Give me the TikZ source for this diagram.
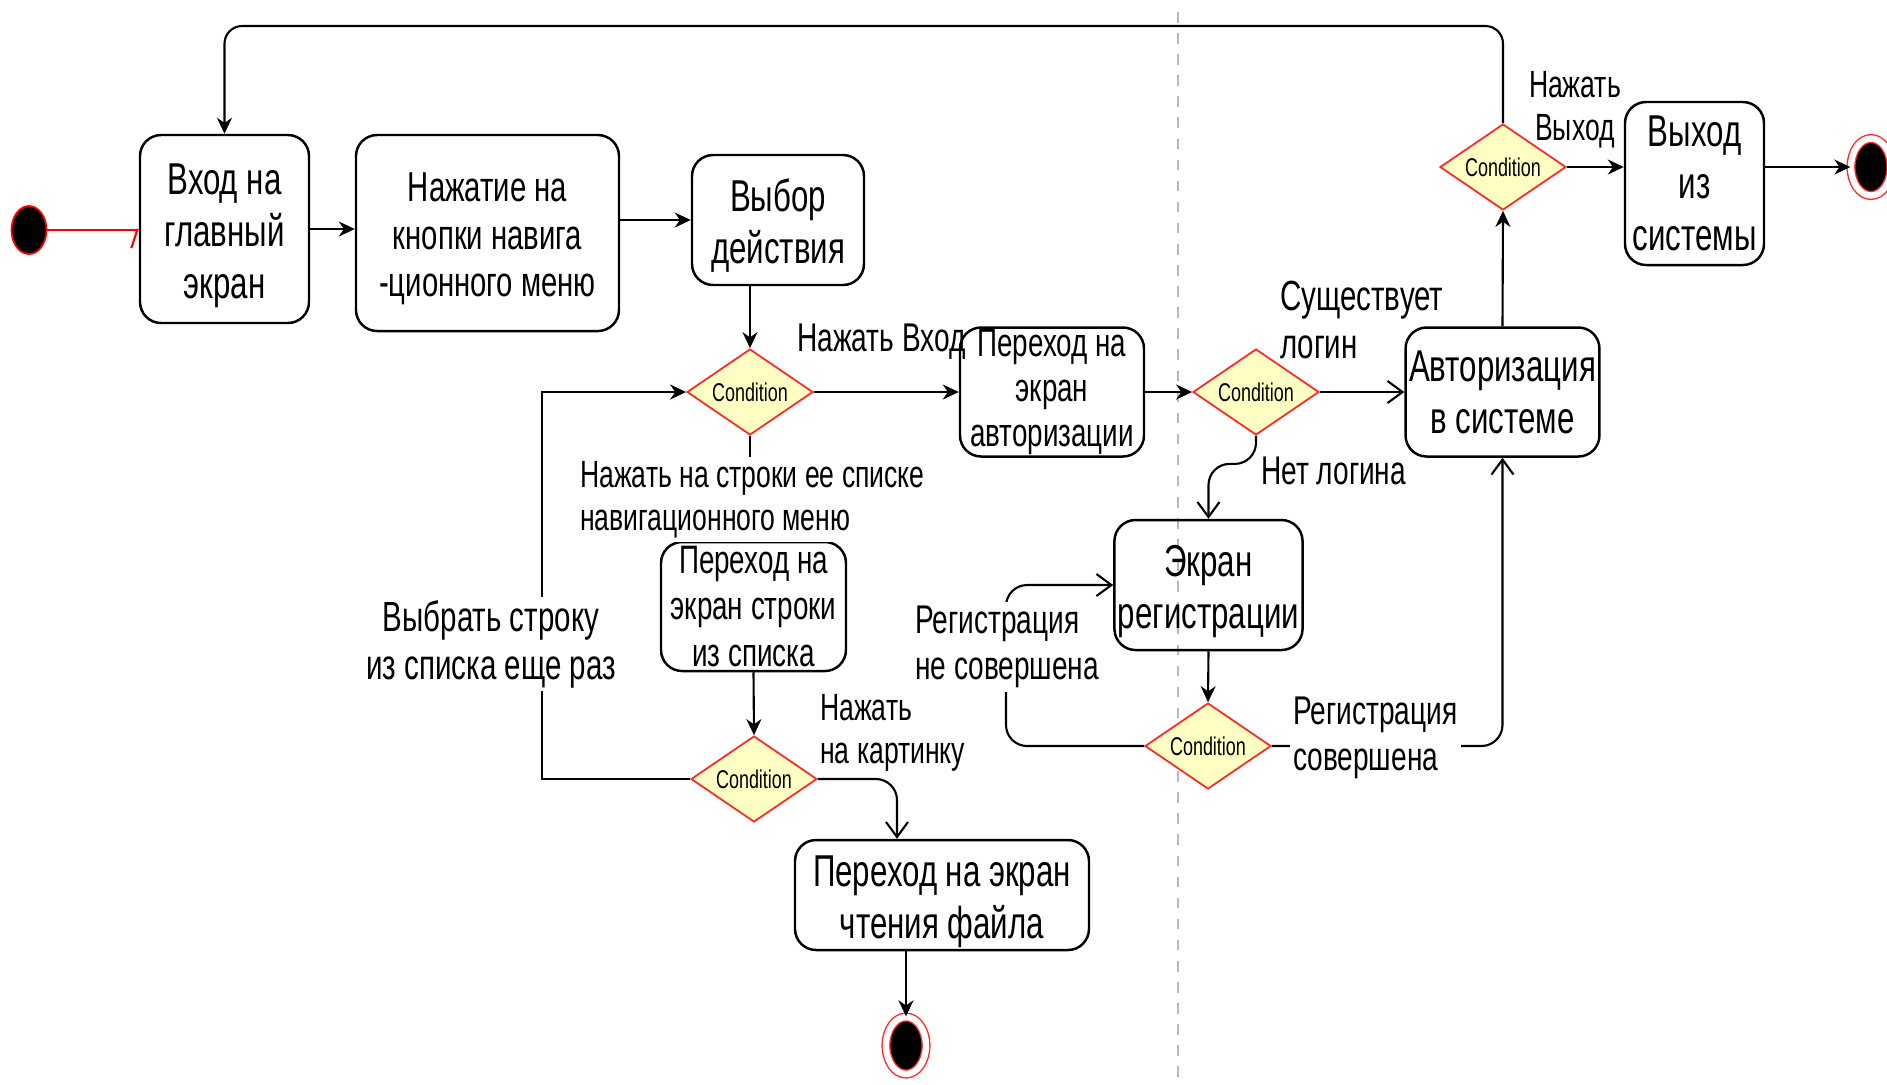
\documentclass[tikz,border=0pt]{standalone}
\usepackage{fontspec}
\setmainfont{Liberation Sans}[FakeStretch=0.7]
\usetikzlibrary{arrows.meta,shapes.geometric}
\definecolor{condfill}{RGB}{255,255,196}
\definecolor{condline}{RGB}{255,40,40}
\newcommand{\topgap}{\rule{0pt}{0.97em}}

\begin{document}
\begin{tikzpicture}

\tikzset{state/.style = {draw, line width=0.7pt, rounded corners=6pt, align=center, inner xsep=1pt, inner ysep=0pt, font=\fontsize{12.7}{14.8}\selectfont}}
\tikzset{smallstate/.style = {state, font=\fontsize{11.3}{13.1}\selectfont}}
\tikzset{cond/.style = {diamond, draw=condline, fill=condfill, line width=0.5pt, aspect=1.46, inner sep=0pt, minimum width=1.26cm, minimum height=0.86cm, font=\fontsize{7.3}{8}\selectfont}}
\tikzset{initial/.style = {ellipse, draw=red, fill=black, line width=0.5pt, minimum width=0.35cm, minimum height=0.48cm, inner sep=0pt}}
\tikzset{final/.style = {ellipse, draw=condline, fill=black, double=white, double distance=1.8pt, line width=0.4pt, minimum width=0.40cm, minimum height=0.57cm, inner sep=0pt}}
\tikzset{lbl/.style = {inner sep=1pt, font=\fontsize{11.4}{13.2}\selectfont}}
\tikzset{biglbl/.style = {lbl, font=\fontsize{12}{13.6}\selectfont}}
\tikzset{smalllbl/.style = {lbl, font=\fontsize{10.8}{12.3}\selectfont}}
\tikzset{line/.style = {line width=0.6pt}}
\tikzset{arc/.style = {line, -{Stealth[length=1.6mm,width=1.5mm]}}}
\tikzset{openarc/.style = {line, -{Straight Barb[length=1.5mm,width=2.2mm]}}}

\useasboundingbox (0,0) rectangle (18.87,-10.84);

% lane border
\draw[gray!55, dashed, line width=0.4pt] (11.78,-0.12) -- (11.78,-10.84);

% start and end points
\node[initial] (start) at (0.29,-2.30) {};
\node[final] (end1) at (9.06,-10.455) {};
\node[final] (end2) at (18.71,-1.67) {};

% states
\node[state, minimum width=1.69cm, minimum height=1.88cm] (entry) at (2.245,-2.29) {\topgap Вход на\\главный\\экран};
\node[smallstate, minimum width=2.63cm, minimum height=1.96cm, font=\fontsize{11.9}{13.6}\selectfont] (navmenu) at (4.875,-2.33) {\topgap Нажатие на\\кнопки навига\\-ционного меню};
\node[state, minimum width=1.72cm, minimum height=1.30cm] (choice) at (7.78,-2.20) {\topgap Выбор\\действия};
\node[smallstate, minimum width=1.84cm, minimum height=1.29cm, font=\fontsize{11.3}{12.7}\selectfont] (toauth) at (10.52,-3.92) {Переход на\\экран\\авторизации};
\node[state, minimum width=1.87cm, minimum height=1.29cm] (auth) at (15.025,-3.92) {Авторизация\\в системе};
\node[state, minimum width=1.39cm, minimum height=1.63cm] (logout) at (16.945,-1.835) {Выход\\из\\системы};
\node[state, minimum width=1.85cm, minimum height=1.30cm] (regscreen) at (12.085,-5.85) {\topgap Экран\\регистрации};
\node[smallstate, minimum width=1.85cm, minimum height=1.29cm] (rowscreen) at (7.535,-6.065) {Переход на\\экран строки\\из списка};
\node[state, minimum width=2.94cm, minimum height=1.10cm] (filescreen) at (9.42,-8.95) {\topgap Переход на экран\\чтения файла};

% conditions
\node[cond] (c1) at (7.50,-3.92) {Condition};
\node[cond] (c2) at (12.56,-3.92) {Condition};
\node[cond] (c3) at (15.03,-1.67) {Condition};
\node[cond] (c4) at (12.08,-7.46) {Condition};
\node[cond] (c5) at (7.54,-7.79) {Condition};

% helper points
\coordinate (top) at (0,-0.26);
\coordinate (again) at (5.42,0);
\coordinate (pic) at (8.97,0);
\coordinate (notreg) at (10.06,0);

% arcs
\draw[red, line width=0.6pt, -{Straight Barb[right,length=0.6mm,width=3.6mm]}] (start.east) -- (start.east -| entry.west);
\draw[arc] (entry.east) -- (entry.east -| navmenu.west);
\draw[arc] (navmenu.east |- choice.west) -- (choice.west);
\draw[arc] (choice.south -| c1) -- (c1.north);
\draw[arc] (c1.east) -- (toauth.west);
\draw[arc] (toauth.east) -- (c2.west);
\draw[openarc] (c2.east) -- (auth.west);
\draw[arc] (auth.north) -- (c3.south);
\draw[arc] (c3.east) -- (c3.east -| logout.west);
\draw[arc] (c3.east -| logout.east) -- (end2.west);
\draw[arc, rounded corners=5pt] (c3.north) -- (c3.north |- top) -- (entry.north |- top) -- (entry.north);
\draw[arc] (rowscreen.south) -- (c5.north);
\draw[arc] (c5.west) -- (c5.west -| again) -- (c1.west -| again) -- (c1.west);
\draw[openarc, rounded corners=6pt] (c5.east) -- (c5.east -| pic) -- (filescreen.north -| pic);
\draw[arc] (filescreen.south -| end1) -- (end1.north);
\draw[openarc, rounded corners=6pt] (c2.south) -- ++(0,-0.28) -| (regscreen.north);
\draw[arc] (regscreen.south) -- (c4.north);
\draw[openarc, rounded corners=6pt] (c4.west) -- (c4.west -| notreg) -- (regscreen.west -| notreg) -- (regscreen.west);
\draw[openarc, rounded corners=6pt] (c4.east) -| (auth.south);

% labels
\node[lbl, anchor=west] (l1) at (7.93,-3.42) {Нажать Вход};
\node[smalllbl, fill=white, anchor=west, align=left] (l2) at (5.76,-5.00) {Нажать на строки ее списке\\навигационного меню};
\node[biglbl, fill=white, align=center] (l3) at (4.91,-6.44) {Выбрать строку\\из списка еще раз};
\node[smalllbl, anchor=west, align=left] (l4) at (8.16,-7.33) {Нажать\\на картинку};
\node[biglbl, anchor=west, align=left] (l5) at (12.76,-3.20) {Существует\\логин};
\node[lbl, anchor=west] (l6) at (12.57,-4.71) {Нет логина};
\node[lbl, fill=white, anchor=west, align=left] (l7) at (9.11,-6.47) {Регистрация\\не совершена};
\node[lbl, fill=white, anchor=west, align=left] (l8) at (12.89,-7.38) {Регистрация\\совершена};
\node[smalllbl, align=center] (l9) at (15.75,-1.10) {Нажать\\Выход};

% stub into label
\draw[line] (c1.south) -- (c1.south |- l2.north);

\end{tikzpicture}
\end{document}
